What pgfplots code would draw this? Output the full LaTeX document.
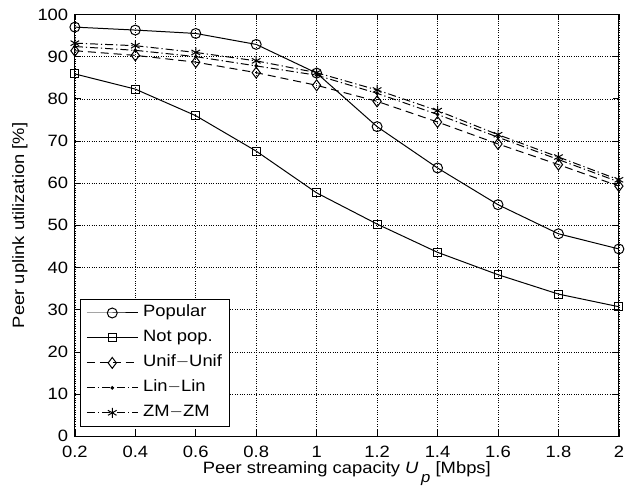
\documentclass[border=0pt]{standalone}
\usepackage{fontspec}
\setmainfont{Liberation Sans}[FakeStretch=1.12]
\usepackage{pgfplots}
\pgfplotsset{compat=1.18}
\begin{document}
\begin{tikzpicture}
\begin{axis}[
  scale only axis,
  width=545bp, height=422.5bp,
  xmin=0.2, xmax=2, ymin=0, ymax=100,
  xtick={0.2,0.4,0.6,0.8,1,1.2,1.4,1.6,1.8,2},
  xticklabels={0.2,0.4,0.6,0.8,1,1.2,1.4,1.6,1.8,2},
  ytick={0,10,...,100},
  tick align=inside,
  tick pos=both,
  major tick length=6bp,
  grid=major,
  major grid style={black, dotted, line width=0.6pt},
  axis line style={black, line width=0.9pt},
  tick style={black, line width=0.7pt},
  /pgf/number format/assume math mode=true,
  ticklabel style={font=\fontsize{16.5}{19}\selectfont, inner sep=1bp},
  xticklabel style={yshift=-9bp},
  yticklabel style={xshift=-5.5bp},
  xlabel={Peer streaming capacity {\itshape U}\,\raisebox{-0.55em}{\fontsize{15}{17}\selectfont\itshape p} [Mbps]},
  ylabel={Peer uplink utilization [\%]},
  xlabel style={font=\fontsize{16.5}{19}\selectfont, at={([yshift=-37bp]rel axis cs:0.5,0)}, anchor=base},
  ylabel style={font=\fontsize{16.5}{19}\selectfont, at={([xshift=-55bp]rel axis cs:0,0.5)}, anchor=center, rotate=0},
  legend style={at={(0.0092,0.0213)}, anchor=south west, draw=black, line width=0.9pt,
    font=\fontsize{16.5}{19}\selectfont, row sep=5bp, column sep=3bp, inner xsep=6bp, inner ysep=4bp, fill=white,
    nodes={inner sep=2bp, text height=12bp, text depth=4bp}},
  legend cell align=left,
  legend image code/.code={\draw[mark repeat=2,mark phase=2,#1] plot coordinates {(0bp,0bp)(25.5bp,0bp)(51bp,0bp)};},
  every axis plot/.append style={black, line width=1pt},
]
\addplot[solid, mark=o, mark size=5pt, mark options={solid}] coordinates {
(0.2,97.0)(0.4,96.3)(0.6,95.5)(0.8,92.9)(1.0,86.1)(1.2,73.4)(1.4,63.6)(1.6,54.9)(1.8,48.0)(2.0,44.4)};
\addlegendentry{Popular}
\addplot[solid, mark=square, mark size=4pt, mark options={solid}] coordinates {
(0.2,85.9)(0.4,82.3)(0.6,76.0)(0.8,67.6)(1.0,57.7)(1.2,50.3)(1.4,43.6)(1.6,38.3)(1.8,33.7)(2.0,30.7)};
\addlegendentry{Not pop.}
\addplot[dash pattern=on 8bp off 5bp, mark=diamond, mark size=5.5pt, mark options={solid}] coordinates {
(0.2,91.4)(0.4,90.3)(0.6,88.7)(0.8,86.2)(1.0,83.2)(1.2,79.4)(1.4,74.5)(1.6,69.3)(1.8,64.4)(2.0,59.3)};
\addlegendentry{Unif$-$Unif}
\addplot[dash pattern=on 8bp off 3bp on 1.2bp off 3bp, mark=*, mark size=1.3pt, mark options={solid}] coordinates {
(0.2,92.4)(0.4,91.5)(0.6,90.0)(0.8,87.8)(1.0,85.6)(1.2,81.3)(1.4,76.3)(1.6,70.9)(1.8,65.6)(2.0,60.3)};
\addlegendentry{Lin$-$Lin}
\addplot[dash pattern=on 8bp off 3bp on 1.2bp off 3bp, mark=asterisk, mark size=5pt, mark options={solid}] coordinates {
(0.2,93.2)(0.4,92.6)(0.6,91.0)(0.8,89.0)(1.0,86.2)(1.2,82.1)(1.4,77.2)(1.6,71.5)(1.8,66.2)(2.0,60.8)};
\addlegendentry{ZM$-$ZM}
\end{axis}
\path ([shift={(-75bp,-58bp)}]current axis.south west) rectangle ([shift={(5bp,14.5bp)}]current axis.north east);
\end{tikzpicture}
\end{document}
